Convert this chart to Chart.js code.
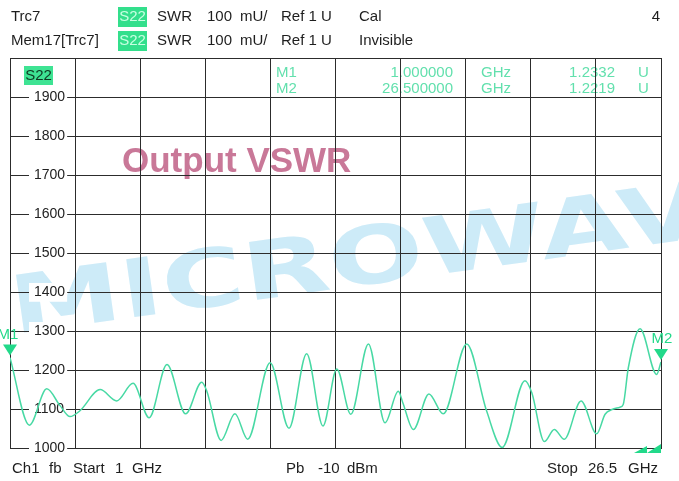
<!DOCTYPE html>
<html><head><meta charset="utf-8">
<script src="https://cdn.jsdelivr.net/npm/chart.js@4/dist/chart.umd.min.js"></script>
<style>html,body{margin:0;padding:0;background:#fff;overflow:hidden}</style>
</head><body>
<canvas id="c" width="679" height="481"></canvas>
<script>
// ---- data ----
const freqGHz = [1.00, 1.76, 2.44, 2.96, 3.35, 3.74, 4.53, 5.18, 5.82, 6.45, 7.15, 7.88, 8.51, 8.71, 9.27, 9.81, 10.31, 11.19, 11.93, 12.62, 13.26, 13.80, 14.35, 15.04, 15.69, 16.21, 16.39, 16.80, 17.41, 17.97, 18.89, 19.67, 20.28, 21.17, 21.44, 21.93, 22.32, 22.71, 23.37, 23.98, 24.31, 24.58, 24.89, 25.02, 25.22, 25.68, 26.33, 26.50];
const swrMilliU = [1233, 1060, 1153, 1110, 1082, 1097, 1151, 1122, 1167, 1079, 1215, 1089, 1170, 1147, 1021, 1089, 1024, 1220, 1052, 1243, 1058, 1204, 1088, 1268, 1066, 1147, 1117, 1049, 1140, 1089, 1268, 1096, 1003, 1174, 1143, 1018, 1049, 1024, 1122, 1038, 1088, 1100, 1106, 1113, 1207, 1307, 1190, 1222];
const yTickValues = [1000, 1100, 1200, 1300, 1400, 1500, 1600, 1700, 1800, 1900, 2000];
const xGridGHz = [1, 3.55, 6.1, 8.65, 11.2, 13.75, 16.3, 18.85, 21.4, 23.95, 26.5];
const markerNames = ['M1', 'M2'];
const markerFreqGHz = [1.0, 26.5];
const markerValues = [1233.2, 1221.9];
const markerFreqText = ['1.000000', '26.500000'];
const markerValueText = ['1.2332', '1.2219'];
const headerLine1 = [['Trc7', 11], ['SWR', 157], ['100', 207], ['mU/', 240], ['Ref 1 U', 281], ['Cal', 359]];
const headerLine2 = [['Mem17[Trc7]', 11], ['SWR', 157], ['100', 207], ['mU/', 240], ['Ref 1 U', 281], ['Invisible', 359]];
const footerTexts = [['Ch1', 12], ['fb', 49], ['Start', 73], ['1', 115], ['GHz', 132], ['Pb', 286], ['-10', 318], ['dBm', 347], ['Stop', 547], ['26.5', 588], ['GHz', 628]];
const chartTitle = 'Output VSWR';
const watermark = 'MICROWAVE';

const FONT = '"Liberation Sans", Arial, sans-serif';
const GRID = '#2c2c2c';
const TRACE = '#48d9a4';
const MK = '#22d98a';

const deco = {
  id: 'deco',
  beforeDraw(chart) {
    const ctx = chart.ctx;
    ctx.save();
    ctx.fillStyle = '#fff';
    ctx.fillRect(0, 0, chart.width, chart.height);
    // faint watermark
    ctx.save();
    ctx.translate(14, 334);
    ctx.rotate(-8 * Math.PI / 180);
    ctx.scale(1.4, 1);
    ctx.font = 'bold 80px "DejaVu Sans", sans-serif';
    ctx.fillStyle = '#cdebf8';
    ctx.textBaseline = 'alphabetic';
    ctx.fillText(watermark, 0, 0);
    ctx.restore();
    // title
    ctx.font = 'bold 35px ' + FONT;
    ctx.fillStyle = '#c97898';
    ctx.textBaseline = 'alphabetic';
    ctx.fillText(chartTitle, 122, 172);
    // marker table
    ctx.font = '15px ' + FONT;
    ctx.fillStyle = '#62e0ad';
    ctx.textBaseline = 'middle';
    const rowsY = [73, 89];
    for (let i = 0; i < markerNames.length; i++) {
      const y = rowsY[i];
      ctx.textAlign = 'left'; ctx.fillText(markerNames[i], 276, y);
      ctx.textAlign = 'right'; ctx.fillText(markerFreqText[i], 453, y);
      ctx.textAlign = 'left'; ctx.fillText('GHz', 481, y);
      ctx.textAlign = 'right'; ctx.fillText(markerValueText[i], 615, y);
      ctx.textAlign = 'left'; ctx.fillText('U', 638, y);
    }
    ctx.restore();
  },
  afterDatasetsDraw(chart) {
    const ctx = chart.ctx;
    const xs = chart.scales.x, ys = chart.scales.y;
    ctx.save();
    // marker triangles
    ctx.fillStyle = MK;
    ctx.font = '15px ' + FONT;
    ctx.textAlign = 'center';
    ctx.textBaseline = 'middle';
    for (let i = 0; i < markerNames.length; i++) {
      const px = xs.getPixelForValue(markerFreqGHz[i]);
      const py = ys.getPixelForValue(markerValues[i]) - 2;
      ctx.beginPath();
      ctx.moveTo(px, py);
      ctx.lineTo(px - 7, py - 11);
      ctx.lineTo(px + 7, py - 11);
      ctx.closePath();
      ctx.fill();
      ctx.fillText(markerNames[i], px + (i === 0 ? -2 : 1), py - 21);
    }
    // S22 tag inside plot
    ctx.fillStyle = '#3ee393';
    ctx.fillRect(24, 66, 29, 19);
    ctx.fillStyle = '#0f3a22';
    ctx.textAlign = 'center';
    ctx.fillText('S22', 38.5, 76);
    // footer band
    ctx.fillStyle = '#fff';
    ctx.fillRect(0, 454, chart.width, chart.height - 454);
    // small indicator glyph bottom right
    ctx.fillStyle = MK;
    ctx.beginPath();
    ctx.moveTo(634, 453); ctx.lineTo(647, 446); ctx.lineTo(647, 453); ctx.closePath(); ctx.fill();
    ctx.beginPath();
    ctx.moveTo(647, 453); ctx.lineTo(661, 444); ctx.lineTo(661, 453); ctx.closePath(); ctx.fill();
    // header
    ctx.fillStyle = '#1e1e1e';
    ctx.textAlign = 'left';
    ctx.textBaseline = 'middle';
    ctx.font = '15px ' + FONT;
    headerLine1.forEach(([t, x]) => ctx.fillText(t, x, 17));
    headerLine2.forEach(([t, x]) => ctx.fillText(t, x, 41));
    ctx.textAlign = 'right';
    ctx.fillText('4', 660, 17);
    // header S22 boxes
    [[7, 17], [31, 41]].forEach(([top, mid]) => {
      ctx.fillStyle = '#33df8c';
      ctx.fillRect(118, top, 29, 20);
      ctx.fillStyle = '#c9ffe2';
      ctx.textAlign = 'center';
      ctx.fillText('S22', 132.5, mid);
    });
    // footer
    ctx.fillStyle = '#1e1e1e';
    ctx.textAlign = 'left';
    footerTexts.forEach(([t, x]) => ctx.fillText(t, x, 469));
    ctx.restore();
  }
};

new Chart(document.getElementById('c'), {
  type: 'line',
  data: {
    datasets: [{
      data: freqGHz.map((f, i) => ({ x: f, y: swrMilliU[i] })),
      borderColor: TRACE,
      borderWidth: 1.5,
      pointRadius: 0,
      fill: false,
      cubicInterpolationMode: 'monotone'
    }]
  },
  options: {
    responsive: false,
    animation: false,
    devicePixelRatio: 1,
    layout: { padding: { left: 10, right: 18, top: 58, bottom: 28 }, autoPadding: false },
    plugins: { legend: { display: false }, tooltip: { enabled: false } },
    scales: {
      x: {
        type: 'linear', min: 1, max: 26.5,
        afterBuildTicks: s => { s.ticks = xGridGHz.map(v => ({ value: v })); },
        afterFit: s => { s.height = 0; },
        ticks: { display: false },
        grid: { color: GRID, lineWidth: 1, drawTicks: false },
        border: { color: GRID, width: 1 }
      },
      y: {
        type: 'linear', min: 1000, max: 2000,
        afterBuildTicks: s => { s.ticks = yTickValues.map(v => ({ value: v })); },
        afterFit: s => { s.width = 0; },
        grid: { color: GRID, lineWidth: 1, drawTicks: false },
        border: { color: GRID, width: 1 },
        ticks: {
          mirror: true,
          padding: 24,
          color: '#222',
          font: { family: FONT, size: 14 },
          callback: v => (v === 2000 ? '' : String(v)),
          showLabelBackdrop: c => c.tick && c.tick.value !== 2000,
          backdropColor: '#ffffff',
          backdropPadding: { left: 5, right: 2, top: 1, bottom: 1 }
        }
      }
    }
  },
  plugins: [deco]
});
</script>
</body></html>
